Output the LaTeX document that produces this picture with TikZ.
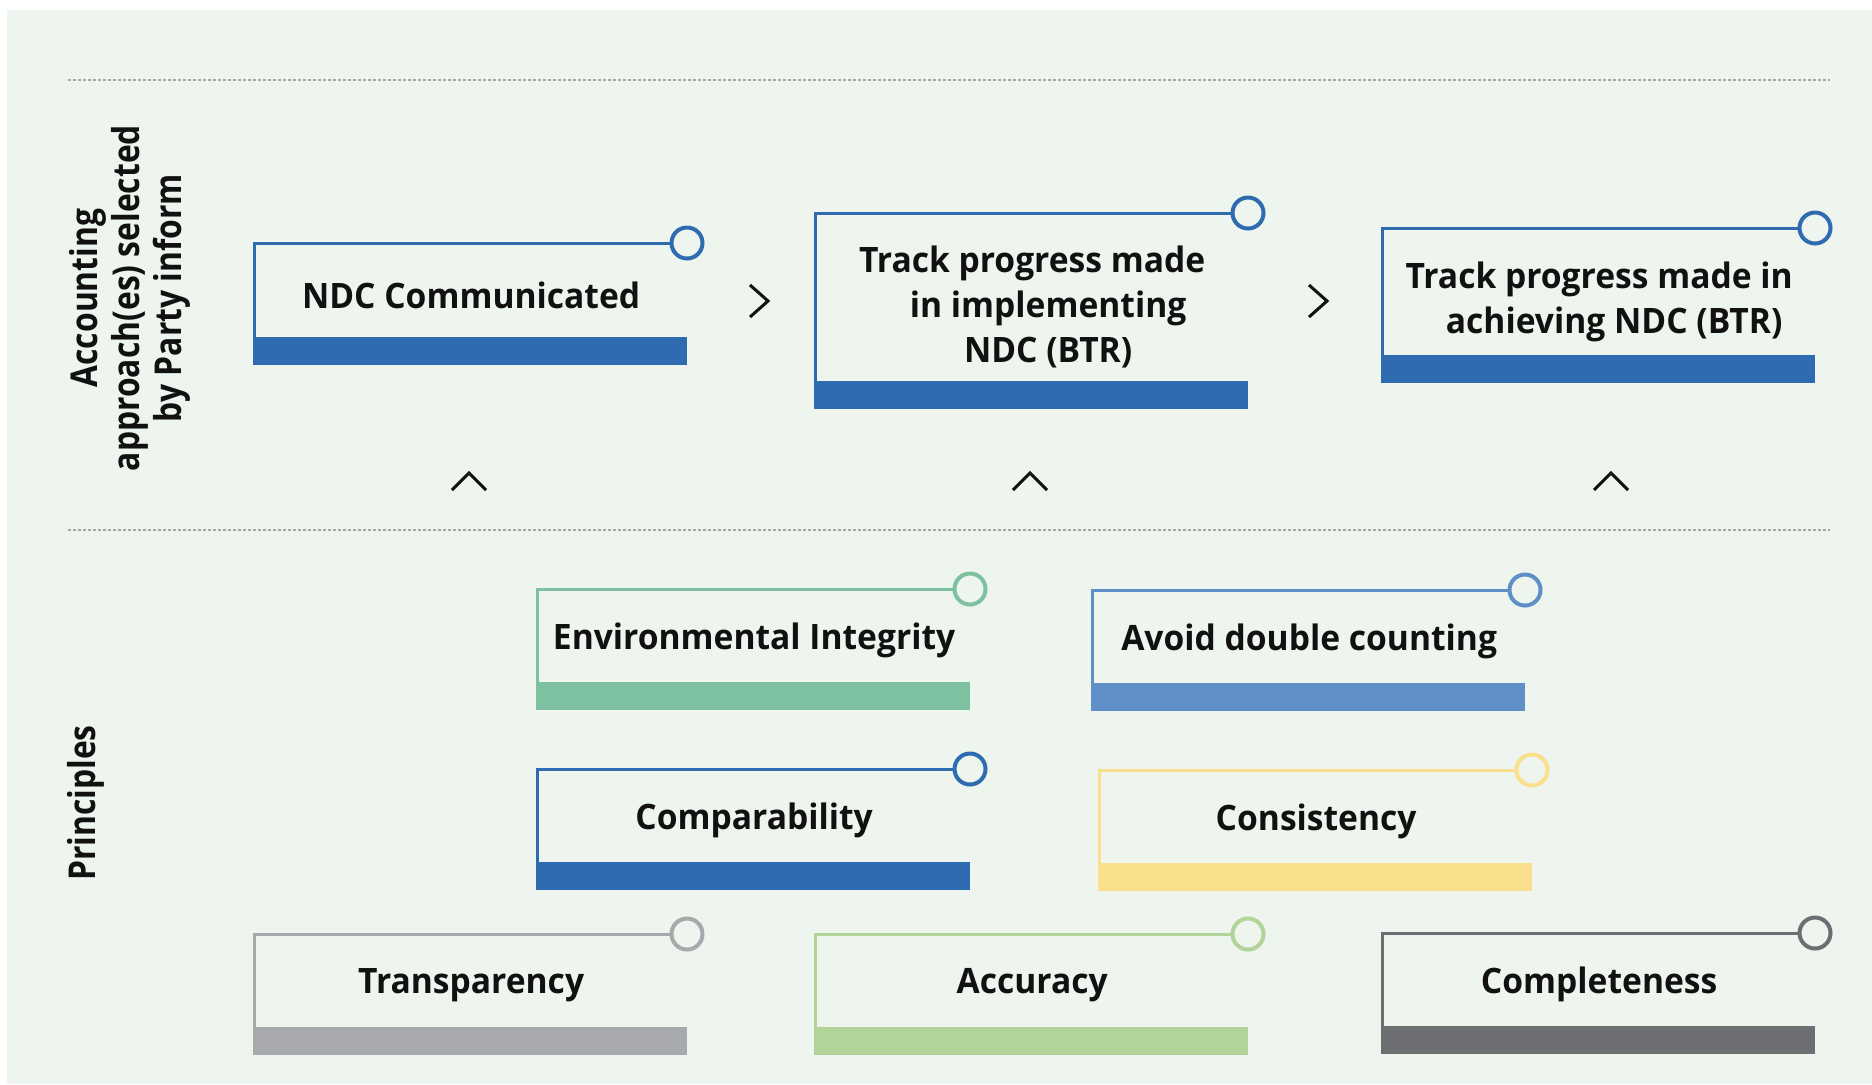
\documentclass[tikz,border=0pt]{standalone}
\usepackage{fontspec}
\usepackage{xcolor}
\usepackage{tikz}
\usetikzlibrary{calc}
\newfontfamily\boxfont{Open Sans}[FakeStretch=0.96]
\newfontfamily\sidefont{Open Sans}[FakeStretch=0.86]
\definecolor{pagebg}{HTML}{EEF5EE}
\definecolor{ink}{HTML}{111111}
\definecolor{ndcblue}{HTML}{2E6BB0}
\definecolor{envgreen}{HTML}{7DC1A0}
\definecolor{avoidblue}{HTML}{608FC7}
\definecolor{consyellow}{HTML}{FAE08C}
\definecolor{transgrey}{HTML}{A7A9AC}
\definecolor{accgreen}{HTML}{B2D498}
\definecolor{compgrey}{HTML}{6D6E71}
\tikzset{
  ndcbar/.style={fill=#1, inner sep=0pt, minimum width=217pt, minimum height=14pt, anchor=north west},
  ndcring/.style={circle, draw=#1, line width=2pt, fill=pagebg, inner sep=0pt, minimum size=15.5pt},
  ndcframe/.style={draw=#1, line width=1.5pt},
  ndctext/.style={font=\boxfont\bfseries\fontsize{17.5}{22.5}\selectfont, align=center, text=ink, yshift=-2.5pt},
  sidetext/.style={font=\sidefont\bfseries\fontsize{18.5}{21}\selectfont, align=center, text=ink, rotate=90},
  chevron/.style={draw=ink, line width=1.5pt},
  sepline/.style={draw=black!35, line width=1.2pt, dash pattern=on 1.4pt off 1.1pt}
}
% one box: [text options], name, colour, left, top, depth to bar, text
\newcommand{\ndcbox}[7][]{%
  \coordinate (#2-tl) at (#4+1.5,#5);
  \node[ndcbar=#3] (#2-bar) at (#4,#5+#6) {};
  \node[ndcring=#3] (#2-ring) at (#4+434,#5) {};
  \draw[ndcframe=#3] (#2-ring) -- (#2-tl) -- (#2-tl |- #2-bar.north);
  \node[ndctext,#1] (#2) at ($(#2-tl)!0.5!(#2-bar.north east)$) {#7};
}

\begin{document}
\begin{tikzpicture}[x=0.5pt, y=-0.5pt]
  \fill[white] (0,0) rectangle (1872,1084);
  \fill[pagebg] (7,10) rectangle (1872,1084);
  \draw[sepline] (68,80) -- (1830,80);
  \draw[sepline] (68,530) -- (1830,530);

  \node[sidetext] (approach) at (130,298) {Accounting\\approach(es) selected\\by Party inform};
  \node[sidetext] (principles) at (86,803) {Principles};

  % reporting steps
  \ndcbox{ndc}{ndcblue}{253}{243}{94}{NDC Communicated}
  \ndcbox[yshift=-2.5pt]{implement}{ndcblue}{814}{213}{168}{Track progress made\\\hspace*{16pt}in implementing\\\hspace*{16pt}NDC (BTR)}
  \ndcbox[yshift=-2.5pt]{achieve}{ndcblue}{1381}{228}{127}{Track progress made in\\\hspace*{15pt}achieving NDC (BTR)}

  \coordinate (next1) at (768,301);
  \coordinate (next2) at (1327,301);
  \draw[chevron] ($(next1)+(-18,-16)$) -- (next1) -- ($(next1)+(-18,16)$);
  \draw[chevron] ($(next2)+(-18,-16)$) -- (next2) -- ($(next2)+(-18,16)$);

  \coordinate (up1) at (469,473);
  \coordinate (up2) at (1030,473);
  \coordinate (up3) at (1611,473);
  \draw[chevron] ($(up1)+(-17,17)$) -- (up1) -- ($(up1)+(17,17)$);
  \draw[chevron] ($(up2)+(-17,17)$) -- (up2) -- ($(up2)+(17,17)$);
  \draw[chevron] ($(up3)+(-17,17)$) -- (up3) -- ($(up3)+(17,17)$);

  % principles
  \ndcbox{integrity}{envgreen}{536}{589}{93}{Environmental Integrity}
  \ndcbox{double}{avoidblue}{1091}{590}{93}{Avoid double counting}
  \ndcbox{compare}{ndcblue}{536}{769}{93}{Comparability}
  \ndcbox{consist}{consyellow}{1098}{770}{93}{Consistency}
  \ndcbox{transp}{transgrey}{253}{934}{93}{Transparency}
  \ndcbox{accur}{accgreen}{814}{934}{93}{Accuracy}
  \ndcbox{complete}{compgrey}{1381}{933}{93}{Completeness}
\end{tikzpicture}
\end{document}
